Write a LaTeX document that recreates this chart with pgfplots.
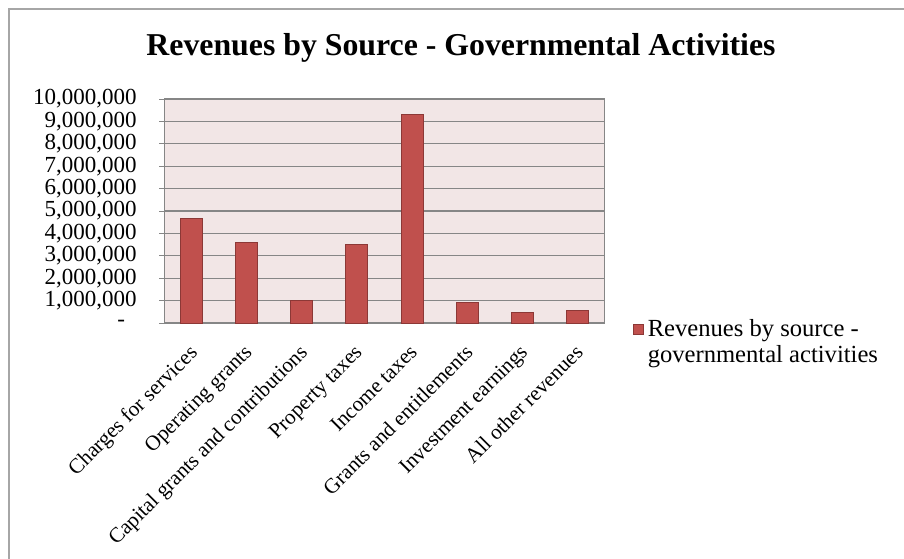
\documentclass[border=0pt]{standalone}
\usepackage{pgfplots}
\pgfplotsset{compat=1.18}
\usepackage{fontspec}
\setmainfont{Liberation Serif}
\definecolor{barred}{HTML}{C0504D}
\definecolor{bardark}{HTML}{8C3836}
\definecolor{plotbg}{HTML}{F2E6E6}
\definecolor{gridgray}{HTML}{868686}
\definecolor{framegray}{HTML}{A6A6A6}
\begin{document}
\begin{tikzpicture}
\useasboundingbox (0,0) rectangle (452pt,279pt);
\fill[white] (0,0) rectangle (452pt,279pt);
\draw[framegray, line width=0.8pt] (4.5pt,-20pt) -- (4.5pt,274.5pt) -- (480pt,274.5pt);
\node[font=\fontsize{15.9}{17}\selectfont\bfseries] at (230.5pt,255pt) {Revenues by Source - Governmental Activities};
\begin{axis}[
  at={(82pt,117.5pt)}, anchor=south west,
  scale only axis, width=220.5pt, height=112pt,
  ybar, bar width=11pt,
  xmin=-0.5, xmax=7.5, ymin=0, ymax=10000000,
  scaled y ticks=false,
  axis background/.style={fill=plotbg},
  axis line style={gridgray, line width=0.5pt},
  xtick={0,1,2,3,4,5,6,7},
  xticklabels={Charges for services, Operating grants, Capital grants and contributions, Property taxes, Income taxes, Grants and entitlements, Investment earnings, All other revenues},
  x tick label style={rotate=45, anchor=north east, font=\fontsize{10.6}{11}\selectfont, inner sep=1pt, yshift=-3pt, xshift=-5.6pt},
  major x tick style={draw=none},
  extra x ticks={-0.5,0.5,1.5,2.5,3.5,4.5,5.5,6.5,7.5},
  extra x tick labels={},
  extra x tick style={major tick length=3pt, tick align=outside, tick style={gridgray, line width=0.5pt}},
  ytick={0,1000000,2000000,3000000,4000000,5000000,6000000,7000000,8000000,9000000,10000000},
  yticklabels={{-\ \ \ },{1,000,000},{2,000,000},{3,000,000},{4,000,000},{5,000,000},{6,000,000},{7,000,000},{8,000,000},{9,000,000},{10,000,000}},
  y tick label style={font=\fontsize{11.5}{12}\selectfont, inner sep=0pt, anchor=east, xshift=-11pt},
  ymajorgrids, grid style={gridgray, line width=0.6pt},
  major y tick style={gridgray, line width=0.5pt},
  tick align=outside, major tick length=2.5pt,
  xtick pos=bottom, ytick pos=left,
  legend style={at={(1.063,-0.085)}, anchor=west, draw=none, fill=none, inner sep=0pt,
    font=\fontsize{12.3}{13}\selectfont, cells={align=left}},
  legend cell align=left,
  legend image code/.code={\draw[#1, line width=0.3pt] (0pt,4pt) rectangle (5pt,9pt);},
]
\addplot[fill=barred, draw=bardark, line width=0.5pt] coordinates {
  (0,4660000) (1,3590000) (2,1000000) (3,3510000) (4,9330000) (5,920000) (6,480000) (7,570000)
};
\addlegendentry{Revenues by source -\\governmental activities}
\end{axis}
\end{tikzpicture}
\end{document}
